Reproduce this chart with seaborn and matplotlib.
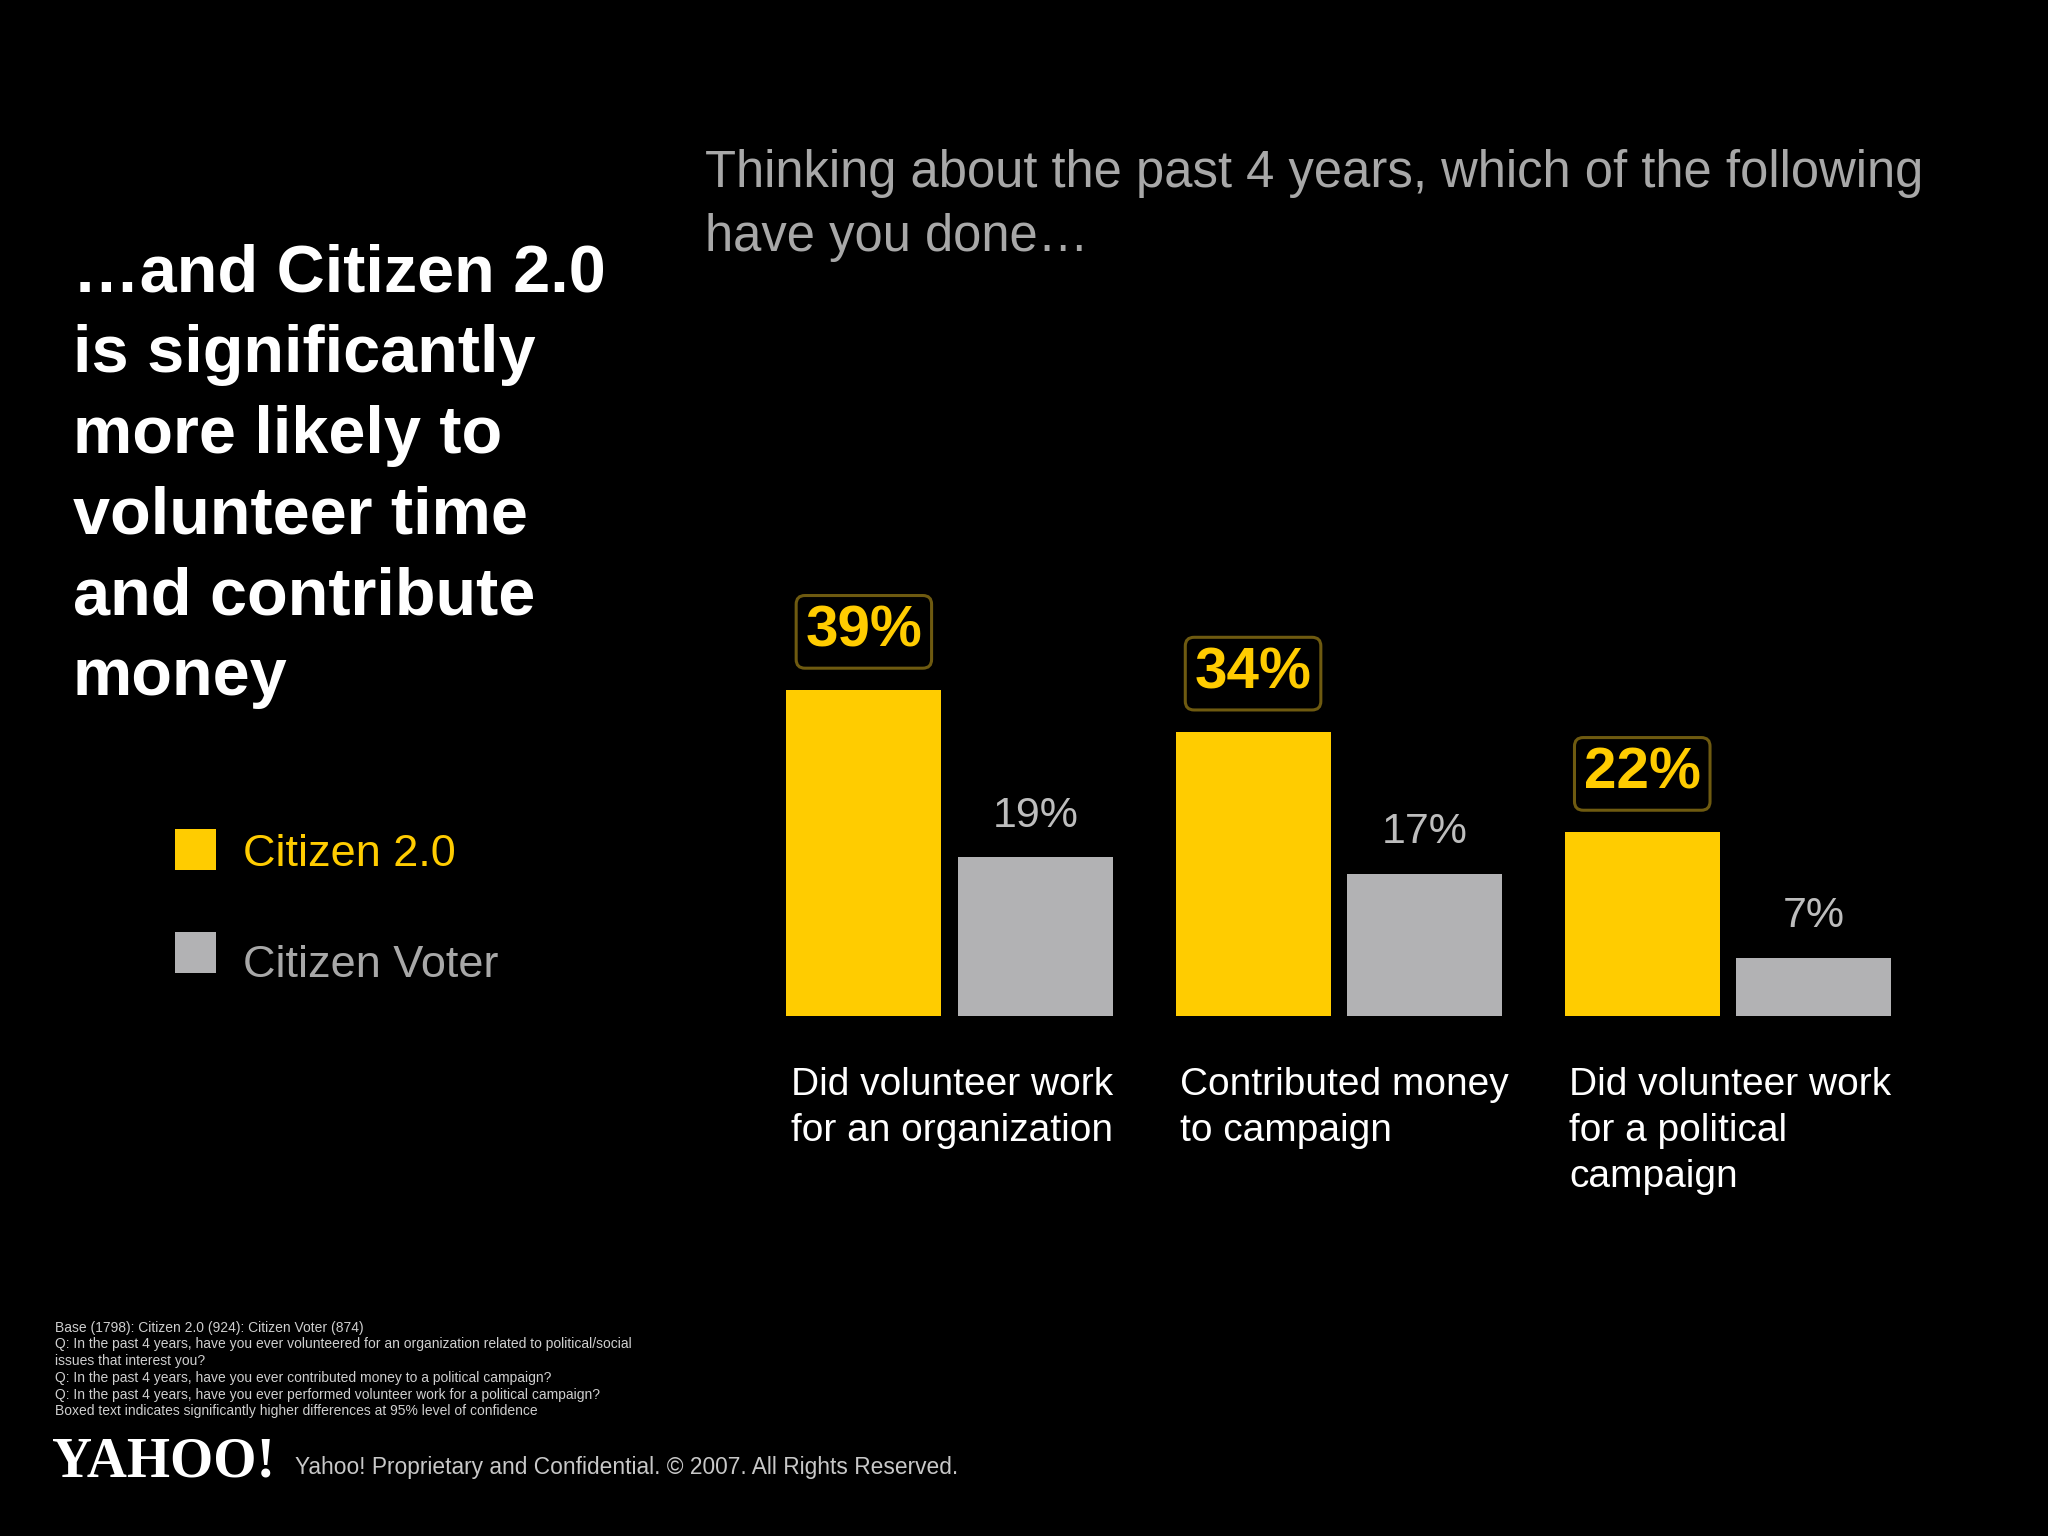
import pandas as pd
import matplotlib.pyplot as plt
import seaborn as sns
from matplotlib.patches import Rectangle

# data
categories = ["Did volunteer work\nfor an organization",
              "Contributed money\nto campaign",
              "Did volunteer work\nfor a political\ncampaign"]
groups = ["Citizen 2.0", "Citizen Voter"]
citizen20 = [39, 34, 22]
voter = [19, 17, 7]

YELLOW = "#FFCC00"
GREY = "#B2B2B4"

df = pd.DataFrame({
    "cat": categories * 2,
    "group": [groups[0]] * 3 + [groups[1]] * 3,
    "val": citizen20 + voter,
})

sns.set_theme(style="white")
plt.rcParams['font.family'] = ['Liberation Sans', 'DejaVu Sans']

fig = plt.figure(figsize=(20.48, 15.36), dpi=100, facecolor="black")
ax = fig.add_axes([0.3687, 0.3385, 0.5701, 0.272])
ax.set_facecolor("black")

sns.barplot(data=df, x="cat", y="val", hue="group", hue_order=groups,
            palette=[YELLOW, GREY], width=0.882, gap=0.0975, saturation=1,
            linewidth=0, edgecolor="none", legend=False, ax=ax)
ax.set_xlim(-0.5, 2.5)
ax.set_ylim(0, 50)
ax.set_axis_off()

# value labels: boxed for Citizen 2.0 (significant), plain for voter
for p, v in zip(ax.containers[0], citizen20):
    ax.annotate(f"{v}%", (p.get_x() + p.get_width() / 2, p.get_height()),
                xytext=(0, 42), textcoords="offset points", ha="center", va="center",
                fontsize=42, fontweight="bold", color=YELLOW,
                bbox=dict(boxstyle="round,pad=0.16,rounding_size=0.15",
                          fc="black", ec="#6E5A10", lw=2.2))
for p, v in zip(ax.containers[1], voter):
    ax.annotate(f"{v}%", (p.get_x() + p.get_width() / 2, p.get_height()),
                xytext=(0, 30), textcoords="offset points", ha="center", va="center",
                fontsize=31, color="#BDBDBD")

# category labels under each group, left aligned with the yellow bar
for i, c in enumerate(categories):
    left = ax.containers[0][i].get_x()
    ax.annotate(c, (left, 0), xycoords=("data", "axes fraction"),
                xytext=(3, -37), textcoords="offset points",
                ha="left", va="top", fontsize=28, color="white", linespacing=1.35)

# titles
fig.text(0.0356, 0.6898, "…and Citizen 2.0\nis significantly\nmore likely to\nvolunteer time\nand contribute\nmoney",
         ha="left", va="center", fontsize=48, fontweight="bold", color="white", linespacing=1.39)
fig.text(0.344, 0.866, "Thinking about the past 4 years, which of the following\nhave you done…",
         ha="left", va="center", fontsize=36.5, color="#A8A8A8", linespacing=1.4)

# legend
fig.patches.append(Rectangle((0.0854, 0.4336), 0.02, 0.0267, transform=fig.transFigure,
                             fc=YELLOW, ec="none"))
fig.patches.append(Rectangle((0.0854, 0.3665), 0.02, 0.0267, transform=fig.transFigure,
                             fc=GREY, ec="none"))
fig.text(0.1187, 0.4436, "Citizen 2.0", ha="left", va="center", fontsize=32.5, color=YELLOW)
fig.text(0.1187, 0.3713, "Citizen Voter", ha="left", va="center", fontsize=32.5, color="#A8A8A8")

# footnote
notes = ("Base (1798): Citizen 2.0 (924): Citizen Voter (874)\n"
         "Q: In the past 4 years, have you ever volunteered for an organization related to political/social\n"
         "issues that interest you?\n"
         "Q: In the past 4 years, have you ever contributed money to a political campaign?\n"
         "Q: In the past 4 years, have you ever performed volunteer work for a political campaign?\n"
         "Boxed text indicates significantly higher differences at 95% level of confidence")
fig.text(0.0269, 0.1402, notes, ha="left", va="top", fontsize=10, color="#CFCFCF",
         linespacing=1.25)

fig.text(0.0254, 0.048, "YAHOO!", ha="left", va="center", fontsize=40, fontweight="bold",
         color="white", family=['Liberation Serif', 'DejaVu Serif'])
fig.text(0.144, 0.0443, "Yahoo! Proprietary and Confidential. © 2007. All Rights Reserved.",
         ha="left", va="center", fontsize=16.4, color="#C8C8C8")

fig.savefig("out.png", dpi=100, facecolor="black")
